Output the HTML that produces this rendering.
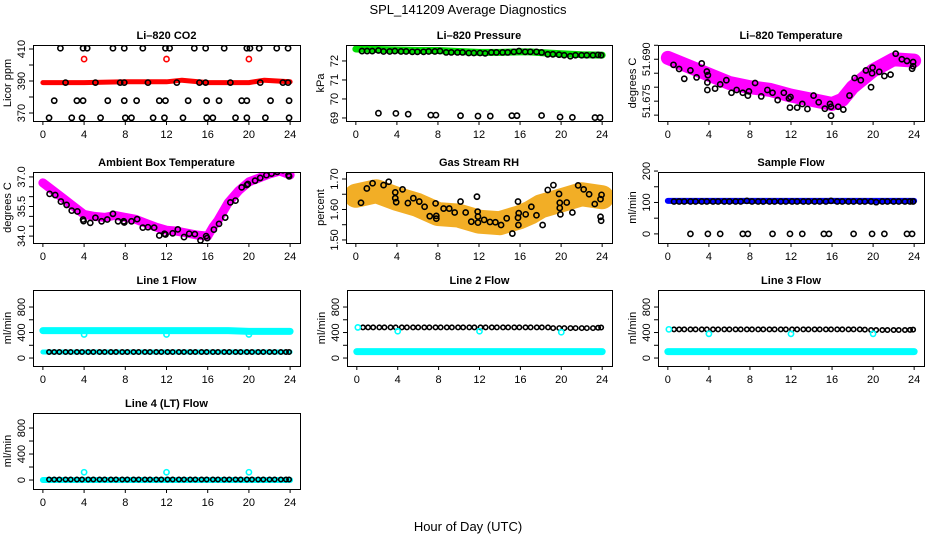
<!DOCTYPE html>
<html><head><meta charset="utf-8">
<style>
html,body{margin:0;padding:0;background:#fff;}
svg{display:block;font-family:"Liberation Sans",sans-serif;}
</style></head>
<body>
<svg id="chart" width="936" height="540" viewBox="0 0 936 540" xmlns="http://www.w3.org/2000/svg">
<text x="468" y="14" text-anchor="middle" font-size="13">SPL_141209  Average Diagnostics</text>
<text x="468" y="531" text-anchor="middle" font-size="13">Hour of Day (UTC)</text>
</svg>
<script>
// ---------- data ----------
const xTicks = [0,4,8,12,16,20,24];
const hrs = [0.6,1.1,1.6,2.2,2.7,3.3,3.8,4.4,4.9,5.5,6.0,6.6,7.1,7.7,8.2,8.8,9.3,9.9,10.4,11.0,11.5,12.1,12.6,13.2,13.7,14.3,14.8,15.4,15.9,16.5,17.0,17.6,18.1,18.7,19.2,19.8,20.3,20.9,21.4,22.0,22.5,23.1,23.6,23.9];
const bandHours = [0,2,4,6,8,10,12,14,16,17,18,20,22,24];

// CO2
const co2BandHours = [0,4,8,12,13.5,16,20,21.5,24];
const co2Band = [389,389,389.5,389.5,390.5,389,389,390.5,389.5];
const co2BlackH = [1.7,3.9,4.3,6.8,7.9,9.7,11.9,12.3,14.7,15.8,17.6,19.8,20.1,21.0,22.7,23.8, 2.2,5.1,7.5,7.9,10.2,13,15.2,15.8,18.2,21.1,23.3,23.8, 1.1,3.3,3.9,6.3,7.9,9.1,11.3,11.9,14.1,15.9,17.1,19.3,19.8,22.1,23.9, 0.6,2.8,3.8,5.6,8,8.6,10.7,11.8,13.6,15.9,16.5,18.7,19.8,21.6,23.9];
const co2BlackV = [410.5,410.5,410.5,410.5,410.5,410.5,410.5,410.5,410.5,410.5,410.5,410.5,410.5,410.5,410.5,410.5, 389,389,389,389,389,389,389,389,389,389,389,389, 377.7,377.7,377.7,377.7,377.7,377.7,377.7,377.7,377.7,377.7,377.7,377.7,377.7,377.7,377.7, 367,367,367,367,367,367,367,367,367,367,367,367,367,367,367];
const co2RedH = [4,12,20];
const co2RedV = [403.7,403.7,403.7];

// Pressure
const presBand = [72.63,72.6,72.58,72.55,72.55,72.5,72.45,72.45,72.48,72.48,72.44,72.38,72.33,72.31];
const presHiV = [72.52,72.52,72.52,72.55,72.5,72.5,72.52,72.5,72.5,72.48,72.48,72.48,72.5,72.5,72.52,72.45,72.45,72.45,72.45,72.42,72.42,72.42,72.4,72.45,72.45,72.45,72.45,72.48,72.52,72.48,72.48,72.48,72.45,72.35,72.35,72.33,72.3,72.25,72.3,72.3,72.3,72.3,72.32,72.3];
const presLoH = [2.2,3.9,5.1,7.3,7.8,10.2,11.9,13.1,15.2,15.7,18.1,19.9,21.1,23.3,23.8];
const presLoV = [69.25,69.24,69.2,69.15,69.15,69.12,69.1,69.1,69.12,69.12,69.13,69.05,69.03,69.02,69.02];

// Li-820 temperature
const ltBand = [51.6905,51.6875,51.6845,51.6815,51.680,51.679,51.677,51.6755,51.674,51.6755,51.680,51.686,51.690,51.6895];
const ltH = [0.55,1.1,1.6,2.2,2.8,3.3,3.8,3.9,3.85,3.85,4.6,5.1,5.7,6.2,6.7,7.3,7.8,7.9,8.5,9.1,9.7,10.2,10.7,11.3,11.8,11.9,11.95,12.6,13.1,13.6,14.2,14.7,15.3,15.8,15.9,15.9,16.6,17.1,17.7,18.2,18.8,19.3,19.8,19.9,19.95,20.6,21.1,21.7,22.2,22.8,23.3,23.9,23.9,23.8];
const ltV = [51.688,51.6865,51.683,51.686,51.6835,51.6885,51.6856,51.6843,51.6817,51.679,51.6795,51.681,51.6825,51.678,51.679,51.678,51.677,51.6785,51.6815,51.6767,51.679,51.678,51.6754,51.678,51.676,51.6727,51.6765,51.6727,51.674,51.6722,51.677,51.6746,51.6723,51.674,51.6698,51.673,51.673,51.672,51.677,51.6833,51.6825,51.686,51.680,51.685,51.687,51.6855,51.684,51.6845,51.692,51.690,51.6894,51.689,51.6875,51.6866];

// Ambient box temperature
const ambBandHours = [0,1,2,3,4,5,6,7,8,9,10,11,12,13,14,15,16,16.5,17,18,19,20,21,22,23,24];
const ambBand = [36.7,36.3,35.9,35.5,35.1,35.0,34.95,35.05,34.95,34.85,34.65,34.45,34.3,34.25,34.15,34.05,34.0,34.45,34.8,35.7,36.3,36.75,36.95,37.15,37.3,37.1];
const ambH = [0.65,1.2,1.75,2.3,2.8,3.35,3.9,3.95,4.6,5.1,5.7,6.25,6.8,7.3,7.85,7.9,8.6,9.15,9.7,10.2,10.8,11.3,11.8,11.9,12.6,13.1,13.7,14.2,14.75,15.3,15.85,15.95,16.6,17.1,17.7,18.2,18.7,19.3,19.8,19.9,20.6,21.1,21.7,22.2,22.75,23.3,23.85,23.9];
const ambV = [36.14,36.08,35.75,35.58,35.29,35.25,34.84,34.76,34.67,34.93,34.75,34.84,35.13,34.75,34.75,34.69,34.75,34.86,34.43,34.45,34.43,34.03,34.12,34.08,34.14,34.34,33.95,34.12,34.1,33.78,34.0,33.9,34.33,34.62,34.94,35.71,35.8,36.47,36.59,36.64,36.81,36.95,37.09,37.17,37.26,37.34,37.09,37.03];

// Gas stream RH
const rhBand = [1.645,1.66,1.635,1.615,1.585,1.58,1.56,1.555,1.575,1.59,1.61,1.63,1.65,1.64];
const rhH = [0.5,1.07,1.63,2.7,3.2,3.84,3.84,3.93,4.55,5.07,5.6,6.18,6.7,7.2,7.84,7.84,7.77,8.55,9.1,9.63,10.2,10.7,11.25,11.8,11.87,11.9,11.9,12.5,13.07,13.6,14.15,14.7,15.25,15.8,15.87,15.8,15.84,16.55,17.1,17.6,18.2,18.7,19.25,19.8,19.87,19.87,19.93,20.55,21.1,21.66,22.2,22.73,23.28,23.84,23.94,23.84,23.9];
const rhV = [1.622,1.669,1.686,1.68,1.691,1.656,1.637,1.624,1.666,1.621,1.637,1.626,1.609,1.578,1.579,1.570,1.62,1.603,1.603,1.59,1.626,1.59,1.56,1.642,1.593,1.577,1.557,1.566,1.559,1.558,1.549,1.571,1.521,1.626,1.588,1.573,1.549,1.584,1.609,1.581,1.549,1.664,1.68,1.651,1.622,1.605,1.584,1.623,1.59,1.679,1.666,1.65,1.618,1.634,1.648,1.576,1.563];

// Sample flow
const sfBand = [105,105,105,105,105,105,105,105,105,105,105,105,105,105];
const sfHiV = [103,103,103,103,103,103,103,103,103,103,103,103,103,105,103,103,103,103,103,103,103,103,103,103,103,103,103,103,105,103,103,103,103,103,103,103,101,103,103,103,103,103,103,103];
const sfZeroH = [2.2,3.9,5.1,7.3,7.8,10.2,11.9,13.1,15.2,15.7,18.1,19.9,21.1,23.3,23.8];
const sfZeroV = [0,0,0,0,0,0,0,0,0,0,0,0,0,0,0];

// Line flows
const l1Cyan = [430,430,430,430,430,430,430,430,430,430,430,418,418,418];
const l1Black = [95,95,95,95,95,95,95,95,95,95,95,95,95,95,95,95,95,95,95,95,95,95,95,95,95,95,95,95,95,95,95,95,95,95,95,95,95,95,95,95,95,95,95,95];
const l1DipH = [4,12,20]; const l1DipV = [370,370,370];
const l2Cyan = [100,100,100,100,100,100,100,100,100,100,100,100,100,100];
const l2Black = [480,480,480,480,480,480,480,480,480,480,480,480,480,480,480,480,480,480,480,480,480,480,480,480,480,480,480,480,480,480,480,480,480,480,470,470,470,470,470,470,470,470,475,478];
const l2DipH = [0.1,4,12,20]; const l2DipV = [480,420,420,405];
const l3Cyan = [100,100,100,100,100,100,100,100,100,100,100,100,100,100];
const l3Black = [450,450,450,450,450,450,450,450,450,450,450,450,450,450,450,450,450,450,450,450,450,450,450,450,450,450,450,450,450,450,450,450,450,450,445,440,440,440,440,440,440,440,442,445];
const l3DipH = [0.1,4,12,20]; const l3DipV = [450,380,380,380];
const l4Cyan = [0,0,0,0,0,0,0,0,0,0,0,0,0,0];
const l4Black = [8,8,8,8,8,8,8,8,8,8,8,8,8,8,8,8,8,8,8,8,8,8,8,8,8,8,8,8,8,8,8,8,8,8,8,8,8,8,8,8,8,8,8,8];
const l4DipH = [4,12,20]; const l4DipV = [120,120,120];

// ---------- drawing ----------
const svg = document.getElementById('chart');
const NS = 'http://www.w3.org/2000/svg';
function mk(tag, attrs, parent){ const e=document.createElementNS(NS,tag); for(const k in attrs) e.setAttribute(k,attrs[k]); (parent||svg).appendChild(e); return e; }

function makePanel(name, title, ylab, L, R, T, B, ymin, ymax, yt, ylabels){
  const g = mk('g',{});
  
  
  const xs = h => L + (h + 0.96) / 25.92 * (R - L);
  const ys = v => B - (v - ymin) / (ymax - ymin) * (B - T);
  const t = mk('text',{x:(L+R)/2,y:T-6,'text-anchor':'middle','font-size':11,'font-weight':'bold'},g);
  t.textContent = title;
  
  
  xTicks.forEach(v=>{
    mk('line',{x1:xs(v),x2:xs(v),y1:B,y2:B+4,stroke:'#000'},g);
    const tl = mk('text',{x:xs(v),y:B+17,'text-anchor':'middle','font-size':11},g);
    tl.textContent = v;
    
    
  });
  mk('line',{x1:xs(0),x2:xs(24),y1:B+0.5,y2:B+0.5,stroke:'#000'},g);
  yt.forEach(v=>{ mk('line',{x1:L-4,x2:L,y1:ys(v),y2:ys(v),stroke:'#000'},g); });
  ylabels.forEach(v=>{
    const yl = mk('text',{x:L-8,y:ys(+v),'text-anchor':'middle','font-size':11,transform:`rotate(-90 ${L-8} ${ys(+v)})`},g);
    yl.textContent = v;
    
    
  });
  const yt2 = mk('text',{x:L-22,y:(T+B)/2,'text-anchor':'middle','font-size':11,transform:`rotate(-90 ${L-22} ${(T+B)/2})`},g);
  yt2.textContent = ylab;
  
  
  const clip = 'c'+name;
  const cp = mk('clipPath',{id:clip},g); mk('rect',{x:L,y:T,width:R-L,height:B-T},cp);
  const data = mk('g',{'clip-path':`url(#${clip})`},g);
  mk('rect',{x:L+0.5,y:T+0.5,width:R-L,height:B-T,fill:'none',stroke:'#000'},g);
  return {
    band(hs, vs, color, w, nm, op){
      const p = mk('polyline',{points:hs.map((h,i)=>xs(h)+','+ys(vs[i])).join(' '),fill:'none',stroke:color,'stroke-width':w,'stroke-linecap':'round','stroke-linejoin':'round','stroke-opacity':op||1},data);
      
      
    },
    pts(hs, vs, color, nm, r){
      hs.forEach((h,i)=>{
        const c = mk('circle',{cx:xs(h),cy:ys(vs[i]),r:r||2.6,fill:'none',stroke:color,'stroke-width':1.6},data);
        
        
      });
    }
  };
}

// Row 1
let p = makePanel('co2-panel','Li–820 CO2','Licor ppm',33,300,45,121,365,412.5,[370,380,390,400,410],['370','390','410']);
p.band(co2BandHours, co2Band, '#ff0000', 5, 'co2-band');
p.pts(co2RedH, co2RedV, '#ff0000', 'co2-red-point');
p.pts(co2BlackH, co2BlackV, '#000', 'co2-black-point');

p = makePanel('pressure-panel','Li–820 Pressure','kPa',346,612,45,121,68.84,72.84,[69,70,71,72],['69','70','71','72']);
p.band(bandHours, presBand, '#00dd00', 7, 'pressure-band');
p.pts(hrs, presHiV, '#000', 'pressure-black-point');
p.pts(presLoH, presLoV, '#000', 'pressure-low-point');

p = makePanel('li820-temp-panel','Li–820 Temperature','degrees C',658,924,45,121,51.6679,51.6951,[51.670,51.675,51.680,51.685,51.690,51.695],['51.675','51.690']);
p.band(bandHours, ltBand, '#ff00ff', 14, 'li820-temp-band');
p.pts(ltH, ltV, '#000', 'li820-temp-point');

// Row 2
p = makePanel('ambient-panel','Ambient Box Temperature','degrees C',33,300,172,243,33.65,37.25,[34.0,34.5,35.0,35.5,36.0,36.5,37.0],['34.0','35.5','37.0']);
p.band(ambBandHours, ambBand, '#ff00ff', 9, 'ambient-band');
p.pts(ambH, ambV, '#000', 'ambient-point');

p = makePanel('rh-panel','Gas Stream RH','percent',346,612,172,243,1.49,1.723,[1.50,1.55,1.60,1.65,1.70],['1.50','1.60','1.70']);
p.band(bandHours, rhBand, '#f0a000', 24, 'rh-band', 0.85);
p.pts(rhH, rhV, '#000', 'rh-point');

p = makePanel('sample-flow-panel','Sample Flow','ml/min',658,924,172,243,-29,197,[0,50,100,150,200],['0','100','200']);
p.band(bandHours, sfBand, '#0000ff', 6, 'sample-flow-band');
p.pts(hrs, sfHiV, '#000', 'sample-flow-point');
p.pts(sfZeroH, sfZeroV, '#000', 'sample-flow-zero-point');

// Row 3
const fTicks=[0,200,400,600,800], fLab=['0','400','800'];
p = makePanel('line1-panel','Line 1 Flow','ml/min',33,300,290,366,-125,1067,fTicks,fLab);
p.band(bandHours, l1Cyan, '#00ffff', 7, 'line1-cyan-band');
p.band(bandHours, l1Black, '#00ffff', 5, 'line1-cyan-low-band');
p.pts(hrs, l1Black, '#000', 'line1-black-point', 2.2);
p.pts(l1DipH, l1DipV, '#00ffff', 'line1-dip-point');

p = makePanel('line2-panel','Line 2 Flow','ml/min',347,612,290,366,-125,1067,fTicks,fLab);
p.band(bandHours, l2Cyan, '#00ffff', 7, 'line2-cyan-band');
p.pts(hrs, l2Black, '#000', 'line2-black-point', 2.2);
p.pts(l2DipH, l2DipV, '#00ffff', 'line2-dip-point');

p = makePanel('line3-panel','Line 3 Flow','ml/min',658,924,290,366,-125,1067,fTicks,fLab);
p.band(bandHours, l3Cyan, '#00ffff', 7, 'line3-cyan-band');
p.pts(hrs, l3Black, '#000', 'line3-black-point', 2.2);
p.pts(l3DipH, l3DipV, '#00ffff', 'line3-dip-point');

// Row 4
p = makePanel('line4-panel','Line 4 (LT) Flow','ml/min',33,300,413,489,-138,1031,fTicks,fLab);
p.band(bandHours, l4Cyan, '#00ffff', 6, 'line4-cyan-band');
p.pts(hrs, l4Black, '#000', 'line4-black-point', 2.2);
p.pts(l4DipH, l4DipV, '#00ffff', 'line4-dip-point');
</script>
</body></html>
